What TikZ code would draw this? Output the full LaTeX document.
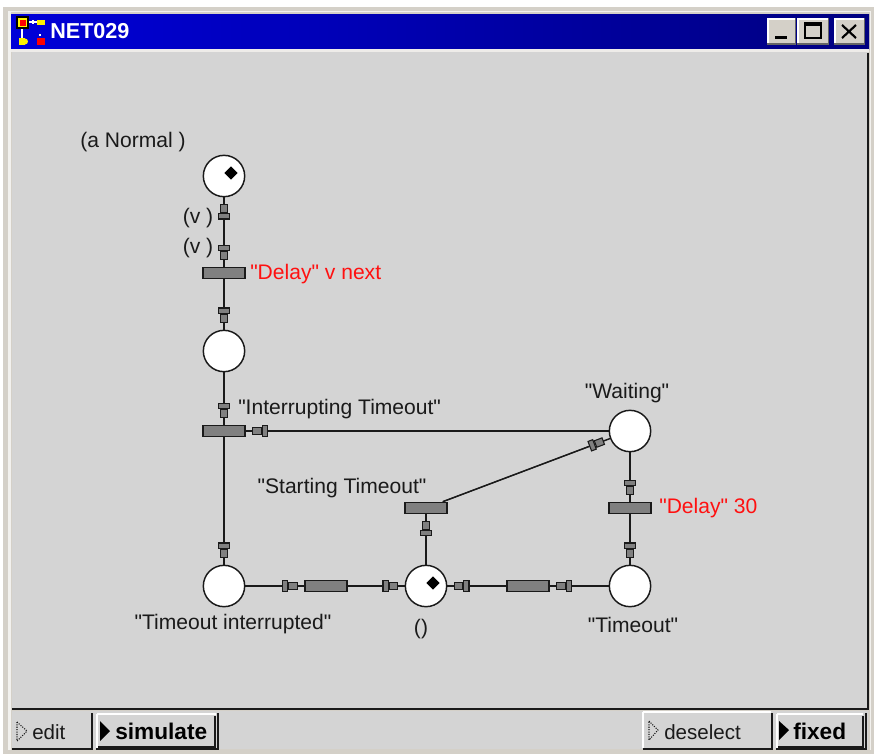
\documentclass[tikz,border=0pt]{standalone}
\usepackage{fontspec}
\newfontfamily\labfont{Liberation Sans}
\usetikzlibrary{arrows.meta,shapes.geometric}
\definecolor{panel}{HTML}{D4D4D4}
\definecolor{frame}{HTML}{D4D0C8}
\definecolor{barfill}{HTML}{808080}
\definecolor{titleL}{HTML}{0000D8}
\definecolor{titleR}{HTML}{000080}
\definecolor{ink}{HTML}{1A1A1A}
\definecolor{redtext}{HTML}{FF1010}
\tikzset{
  place/.style={circle,draw=ink,fill=white,line width=1.1pt,minimum size=31pt,inner sep=0pt},
  trans/.style={rectangle,draw=ink,fill=barfill,line width=1.1pt,minimum width=31.5pt,minimum height=8.4pt,inner sep=0pt},
  token/.style={diamond,fill=black,minimum size=10pt,inner sep=0pt},
  lab/.style={font=\labfont\fontsize{15.8}{17}\selectfont,text=ink,inner sep=0pt},
  redlab/.style={lab,text=redtext,anchor=west},
  arc/.style={draw=ink,line width=1.1pt,postaction={draw=ink,line width=0.8pt,shorten >=5pt,
     -{Rectangle[length=4.6pt,width=8.4pt,fill=barfill]Rectangle[length=7pt,width=6pt,fill=barfill]}}},
  btn/.style={font=\labfont\fontsize{15.4}{17}\selectfont,text=ink,inner sep=0pt,anchor=west},
  btnb/.style={font=\labfont\fontsize{17}{18}\selectfont\bfseries,text=black,inner sep=0pt,anchor=west},
}
\begin{document}
\begin{tikzpicture}[x=0.75pt,y=-0.75pt]
\useasboundingbox (0,0) rectangle (874,754);
\fill[white] (0,0) rectangle (874,754);
% window frame
\fill[frame] (3,7) rectangle (874,754);
\fill[white!70!frame] (8,11) rectangle (871,750);
\fill[frame] (11,12) rectangle (870,750);
% title bar
\shade[left color=titleL,right color=titleR] (11,14) rectangle (869,49);
\fill[white!60!frame] (11,49) rectangle (869,52);
% client
\fill[panel] (12,52) rectangle (868,709);
\draw[ink,line width=1pt] (868,53) -- (868,709) -- (12,709);
\fill[panel] (12,711) rectangle (868,749);
% title icon
\fill[black] (16,16) rectangle (29,29);
\fill[yellow] (18,18) rectangle (27,27);
\fill[red] (19.5,19.5) rectangle (25.5,25.5);
\draw[white,line width=0.8pt] (29,22) -- (37,22) (33,20) -- (33,24) (22,29) -- (22,38) (40,34) -- (40,35.5);
\fill[yellow] (37,19.5) rectangle (45,25);
\fill[yellow] (18.5,38) rectangle (25,45);
\fill[yellow] (25,41.5) circle (3);
\fill[red] (36.5,37.5) rectangle (44.5,45);
\node[inner sep=0pt,anchor=west,text=white,font=\labfont\fontsize{16.2}{17}\selectfont\bfseries] (title) at (50,31) {NET029};
% caption buttons
\foreach \a/\b in {767/796,797/829,834/865}{
  \fill[black!60] (\a,18) rectangle (\b,45);
  \fill[white] (\a,18) rectangle (\b-1.5,43);
  \fill[frame] (\a+1.5,19.5) rectangle (\b-1.5,43);
}
\fill[black] (775,36) rectangle (787,39);
\draw[black,line width=1.1pt] (805,23) rectangle (821,38);
\fill[black] (805,23) rectangle (821,26);
\draw[black,line width=1.6pt] (842,25) -- (856,38) (856,25) -- (842,38);
% status buttons
\draw[ink,line width=1pt] (12,749) -- (92,749) -- (92,713);
\draw[white,line width=1pt] (97,714) -- (216,714);
\draw[white,line width=1pt] (97,714) -- (97,748);
\draw[ink,line width=1.2pt] (96,749) -- (218,749) -- (218,713);
\draw[ink,line width=1pt] (98,747) -- (215,747) -- (215,716);
\draw[white,line width=1pt] (643,712) -- (771,712);
\draw[white,line width=1pt] (643,712) -- (643,748);
\draw[ink,line width=1pt] (643,749) -- (772,749) -- (772,713);
\draw[white,line width=1pt] (777,714) -- (863,714);
\draw[white,line width=1pt] (777,714) -- (777,748);
\draw[ink,line width=1.2pt] (776,749) -- (866,749) -- (866,713);
\draw[ink,line width=1pt] (778,747) -- (863,747) -- (863,716);
\draw[ink,densely dotted,line width=0.8pt] (17,722) -- (27,731) -- (17,741) -- cycle;
\draw[ink,densely dotted,line width=0.8pt] (649,721) -- (658,730) -- (649,740) -- cycle;
\fill[black] (100,721) -- (110,731) -- (100,741) -- cycle;
\fill[black] (779,721) -- (789,730) -- (779,740) -- cycle;
\node[btn] (bedit) at (32,732) {edit};
\node[btnb] (bsim) at (115,731) {simulate};
\node[btn] (bdes) at (664,732) {deselect};
\node[btnb] (bfix) at (793,731) {fixed};
% net nodes
\node[place] (p1) at (224,176) {};
\node[place] (p2) at (224,351) {};
\node[place] (pw) at (630,431) {};
\node[place] (pi) at (224,586) {};
\node[place] (pu) at (426,586) {};
\node[place] (po) at (630,586) {};
\node[trans] (t1) at (224,273) {};
\node[trans] (t2) at (224,431) {};
\node[trans] (t3) at (426,508) {};
\node[trans] (t4) at (630,508) {};
\node[trans] (t5) at (326,586) {};
\node[trans] (t6) at (528,586) {};
\node[token] (k1) at (231,173) {};
\node[token] (k2) at (433,583) {};
% connectors
\coordinate (m1) at (224,224);
\path[arc] (m1) -- (p1);
\path[arc] (m1) -- (t1);
\path[arc] (t1) -- (p2);
\path[arc] (p2) -- (t2);
\path[arc] (t2) -- (pi);
\path[arc] (pw) -- (t2);
\path[arc] (t3) -- (pw);
\path[arc] (pu) -- (t3);
\path[arc] (pw) -- (t4);
\path[arc] (t4) -- (po);
\path[arc] (pi) -- (t5);
\path[arc] (t5) -- (pu);
\path[arc] (po) -- (t6);
\path[arc] (t6) -- (pu);
% labels
\node[lab] (l1) at (133,142.5) {(a Normal )};
\node[lab] (l2) at (198,218) {(v )};
\node[lab] (l3) at (198,248) {(v )};
\node[redlab] (l4) at (250,274.5) {"Delay" v next};
\node[lab,anchor=west] (l5) at (238,409.5) {"Interrupting Timeout"};
\node[lab] (l6) at (627,393.5) {"Waiting"};
\node[lab] (l7) at (342,488.5) {"Starting Timeout"};
\node[redlab] (l8) at (659,508.5) {"Delay" 30};
\node[lab] (l9) at (233,624.5) {"Timeout interrupted"};
\node[lab] (l10) at (421,629) {()};
\node[lab] (l11) at (633,625) {"Timeout"};
\end{tikzpicture}
\end{document}
